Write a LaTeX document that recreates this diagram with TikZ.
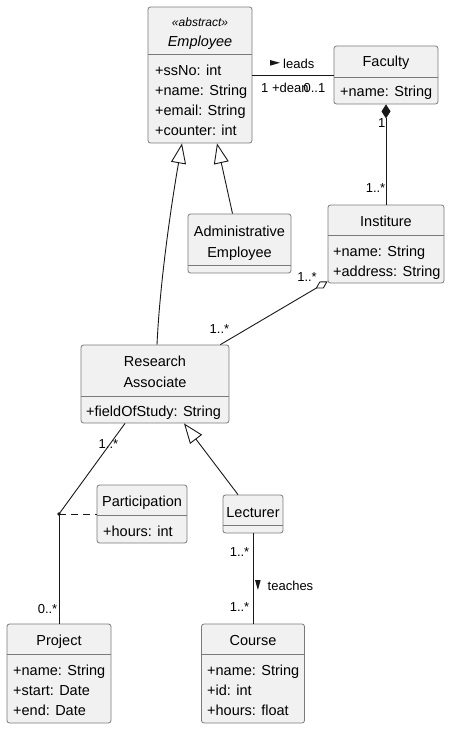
\documentclass[tikz,border=0pt]{standalone}
\usepackage{fontspec}
\setmainfont{Liberation Sans}
\usetikzlibrary{arrows.meta}
\definecolor{boxfill}{HTML}{F1F1F1}
\definecolor{boxline}{HTML}{7A7A7A}
\definecolor{linecol}{HTML}{181818}
\begin{document}
\begin{tikzpicture}[x=1pt,y=-1pt,
  classbox/.style={draw=boxline, fill=boxfill, rounded corners=2.5pt, line width=0.8pt, inner sep=0pt},
  divider/.style={draw=boxline, line width=0.8pt},
  ctext/.style={font=\fontsize{14.5}{17}\selectfont, inner sep=0pt, anchor=base},
  atext/.style={font=\fontsize{14.5}{17}\selectfont, inner sep=0pt, anchor=base west},
  stereo/.style={font=\fontsize{12}{14}\selectfont\itshape, inner sep=0pt, anchor=base},
  lbl/.style={font=\fontsize{13}{15}\selectfont, inner sep=0pt},
  conn/.style={draw=linecol, line width=0.9pt},
  gen/.style={conn, -{Triangle[open, length=20pt, width=15pt, line width=0.9pt]}},
]
\useasboundingbox (0,0) rectangle (452,730);

% ---------- classes ----------
\node[classbox, minimum width=104pt, minimum height=136pt] (emp) at (200,75) {};
\draw[divider] (148,54) -- (252,54);
\node[stereo] (empst) at (200,26.5) {«abstract»};
\node[ctext, font=\fontsize{14.5}{17}\selectfont\itshape] (empn) at (200,46.5) {Employee};
\node[atext] (e1) at (155,76) {+ssNo: int};
\node[atext] (e2) at (155,96) {+name: String};
\node[atext] (e3) at (155,116) {+email: String};
\node[atext] (e4) at (155,136) {+counter: int};

\node[classbox, minimum width=104pt, minimum height=58pt] (fac) at (386,75) {};
\draw[divider] (334,77) -- (438,77);
\node[ctext] (facn) at (386,67) {Faculty};
\node[atext] (f1) at (340,97) {+name: String};

\node[classbox, minimum width=116pt, minimum height=78pt] (inst) at (386,244) {};
\draw[divider] (328,235) -- (444,235);
\node[ctext] (instn) at (386,226.5) {Institure};
\node[atext] (i1) at (333,256.5) {+name: String};
\node[atext] (i2) at (333,276) {+address: String};

\node[classbox, minimum width=103pt, minimum height=59pt] (adm) at (239.5,243.5) {};
\draw[divider] (188,265) -- (291,265);
\node[ctext] (admn1) at (239.5,236.5) {Administrative};
\node[ctext] (admn2) at (239.5,257) {Employee};

\node[classbox, minimum width=148pt, minimum height=78pt] (ra) at (155,384) {};
\draw[divider] (81,396) -- (229,396);
\node[ctext] (ran1) at (155,366) {Research};
\node[ctext] (ran2) at (155,387) {Associate};
\node[atext] (r1) at (86,416) {+fieldOfStudy: String};

\node[classbox, minimum width=90pt, minimum height=58pt] (part) at (142,514) {};
\draw[divider] (97,515) -- (187,515);
\node[ctext] (partn) at (142,506.5) {Participation};
\node[atext] (p1) at (103,536) {+hours: int};

\node[classbox, minimum width=60pt, minimum height=38pt] (lec) at (253,514) {};
\draw[divider] (223,525) -- (283,525);
\node[ctext] (lecn) at (253,517.5) {Lecturer};

\node[classbox, minimum width=104pt, minimum height=99pt] (proj) at (59,673.5) {};
\draw[divider] (7,654) -- (111,654);
\node[ctext] (projn) at (59,645.5) {Project};
\node[atext] (pr1) at (13,675) {+name: String};
\node[atext] (pr2) at (13,695) {+start: Date};
\node[atext] (pr3) at (13,715) {+end: Date};

\node[classbox, minimum width=103pt, minimum height=99pt] (course) at (253,673.5) {};
\draw[divider] (201.5,654) -- (304.5,654);
\node[ctext] (coursen) at (253,645.5) {Course};
\node[atext] (c1) at (207,675) {+name: String};
\node[atext] (c2) at (207,695) {+id: int};
\node[atext] (c3) at (207,715) {+hours: float};

% ---------- connectors ----------
% Employee -- Faculty (leads)
\draw[conn] (emp.east) -- (fac.west);
\fill[linecol] (270,60) -- (270,65.7) -- (280,62.8) -- cycle;
\node[lbl, anchor=base west] (leads) at (283,68.3) {leads};
\node[lbl, anchor=base west] (dean) at (261,92.5) {1 +dean};
\node[lbl, anchor=base east] (deanm) at (325.5,92.5) {0..1};

% Faculty <>-- Institure (composition)
\draw[conn, {Diamond[length=14pt, width=9pt]}-] (fac.south) -- (inst.north);
\node[lbl, anchor=base east] (c1m) at (385.5,128) {1};
\node[lbl, anchor=base east] (c2m) at (385.5,192.5) {1..*};

% Institure <>-- Research Associate (aggregation)
\draw[conn, {Diamond[open, length=14pt, width=8pt, line width=0.9pt]}-] ([yshift=2pt]inst.south west) -- ([xshift=-9pt]ra.north east);
\node[lbl, anchor=base east] (a1m) at (317,281) {1..*};
\node[lbl, anchor=base west] (a2m) at (209.5,333) {1..*};

% generalizations
\draw[gen] ([xshift=-7pt]adm.north) -- ([xshift=17pt]emp.south);
\draw[gen] ([xshift=2pt]ra.north) .. controls (160,280) and (172,200) .. ([xshift=-18pt]emp.south);
\draw[gen] ([xshift=-15pt]lec.north) -- ([xshift=29pt]ra.south);

% association class: Research Associate -- Project with Participation
\coordinate (dot) at (59,514);
\draw[conn] ([xshift=-30pt]ra.south) -- (dot);
\draw[conn] (dot) -- (proj.north);
\draw[conn, dash pattern=on 7pt off 5pt] (dot) -- (part.west);
\fill[linecol] (dot) circle (1.8pt);
\node[lbl, anchor=base west] (pj1) at (98.5,448) {1..*};
\node[lbl, anchor=base east] (pj2) at (57.5,613) {0..*};

% Lecturer -- Course (teaches)
\draw[conn] (lec.south) -- (course.north);
\node[lbl, anchor=base east] (t1) at (249.5,556.5) {1..*};
\node[lbl, anchor=base east] (t2) at (249.5,611.5) {1..*};
\fill[linecol] (255,580) -- (260.7,580) -- (257.9,590) -- cycle;
\node[lbl, anchor=base west] (teach) at (267.5,590) {teaches};
\end{tikzpicture}
\end{document}
